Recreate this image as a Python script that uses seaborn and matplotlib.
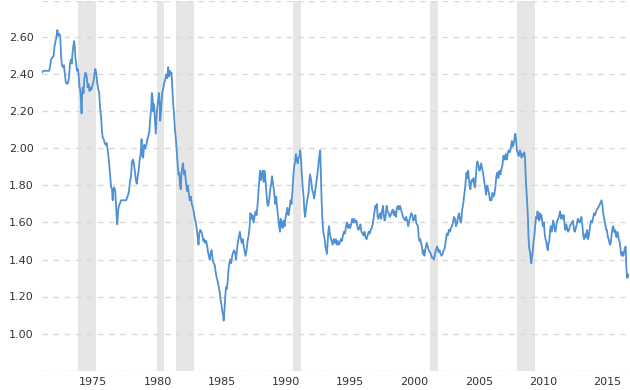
import pandas as pd
import matplotlib.pyplot as plt
import seaborn as sns

# GBP/USD exchange rate (decimal years)
years = [
    1971.00, 1971.10, 1971.25, 1971.40, 1971.55, 1971.62, 1971.70, 1971.78, 1971.90, 1971.97,
    1972.05, 1972.12, 1972.20, 1972.25, 1972.33, 1972.42, 1972.48, 1972.55, 1972.62, 1972.70,
    1972.78, 1972.85, 1972.92, 1972.98, 1973.05, 1973.12, 1973.18, 1973.25, 1973.32, 1973.38,
    1973.45, 1973.50, 1973.55, 1973.60, 1973.66, 1973.72, 1973.78, 1973.85, 1973.92, 1973.97,
    1974.03, 1974.08, 1974.12, 1974.17, 1974.23, 1974.30, 1974.38, 1974.43, 1974.50, 1974.55,
    1974.62, 1974.70, 1974.77, 1974.85, 1974.92, 1975.00, 1975.08, 1975.15, 1975.22, 1975.30,
    1975.38, 1975.45, 1975.52, 1975.60, 1975.66, 1975.72, 1975.80, 1975.88, 1975.95, 1976.03,
    1976.10, 1976.17, 1976.25, 1976.32, 1976.38, 1976.45, 1976.50, 1976.55, 1976.62, 1976.70,
    1976.76, 1976.82, 1976.86, 1976.92, 1976.98, 1977.05, 1977.15, 1977.25, 1977.35, 1977.45,
    1977.55, 1977.65, 1977.75, 1977.85, 1977.93, 1978.00, 1978.08, 1978.15, 1978.25, 1978.33,
    1978.38, 1978.45, 1978.52, 1978.60, 1978.68, 1978.75, 1978.80, 1978.87, 1978.95, 1979.03,
    1979.12, 1979.20, 1979.28, 1979.35, 1979.42, 1979.50, 1979.55, 1979.60, 1979.66, 1979.72,
    1979.78, 1979.85, 1979.92, 1979.97, 1980.05, 1980.10, 1980.15, 1980.20, 1980.28, 1980.35,
    1980.42, 1980.50, 1980.58, 1980.66, 1980.75, 1980.82, 1980.88, 1980.95, 1981.02, 1981.08,
    1981.14, 1981.20, 1981.27, 1981.35, 1981.42, 1981.48, 1981.55, 1981.62, 1981.68, 1981.75,
    1981.80, 1981.86, 1981.92, 1981.98, 1982.05, 1982.12, 1982.20, 1982.28, 1982.35, 1982.42,
    1982.50, 1982.58, 1982.66, 1982.75, 1982.83, 1982.90, 1982.97, 1983.05, 1983.12, 1983.18,
    1983.24, 1983.32, 1983.40, 1983.48, 1983.56, 1983.62, 1983.70, 1983.78, 1983.86, 1983.92,
    1983.98, 1984.05, 1984.12, 1984.20, 1984.28, 1984.36, 1984.44, 1984.52, 1984.60, 1984.68,
    1984.76, 1984.84, 1984.90, 1984.96, 1985.03, 1985.09, 1985.14, 1985.18, 1985.22, 1985.26,
    1985.32, 1985.38, 1985.45, 1985.52, 1985.58, 1985.65, 1985.72, 1985.80, 1985.88, 1985.96,
    1986.04, 1986.10, 1986.18, 1986.26, 1986.34, 1986.40, 1986.46, 1986.54, 1986.62, 1986.70,
    1986.78, 1986.84, 1986.92, 1987.00, 1987.08, 1987.16, 1987.22, 1987.30, 1987.38, 1987.46,
    1987.54, 1987.62, 1987.70, 1987.78, 1987.86, 1987.92, 1987.98, 1988.04, 1988.10, 1988.18,
    1988.25, 1988.30, 1988.36, 1988.42, 1988.48, 1988.54, 1988.60, 1988.68, 1988.76, 1988.84,
    1988.90, 1988.96, 1989.04, 1989.10, 1989.16, 1989.22, 1989.30, 1989.38, 1989.45, 1989.52,
    1989.58, 1989.64, 1989.72, 1989.80, 1989.88, 1989.94, 1990.02, 1990.10, 1990.18, 1990.26,
    1990.34, 1990.42, 1990.50, 1990.56, 1990.62, 1990.70, 1990.76, 1990.82, 1990.90, 1990.96,
    1991.04, 1991.10, 1991.16, 1991.22, 1991.30, 1991.36, 1991.42, 1991.48, 1991.54, 1991.60,
    1991.66, 1991.74, 1991.80, 1991.86, 1991.94, 1992.02, 1992.10, 1992.18, 1992.26, 1992.34,
    1992.40, 1992.46, 1992.52, 1992.60, 1992.65, 1992.70, 1992.76, 1992.82, 1992.88, 1992.94,
    1993.00, 1993.06, 1993.12, 1993.18, 1993.22, 1993.28, 1993.34, 1993.40, 1993.46, 1993.54,
    1993.62, 1993.70, 1993.78, 1993.86, 1993.94, 1994.02, 1994.10, 1994.18, 1994.26, 1994.34,
    1994.42, 1994.50, 1994.58, 1994.66, 1994.74, 1994.82, 1994.90, 1994.98, 1995.06, 1995.14,
    1995.22, 1995.30, 1995.38, 1995.46, 1995.54, 1995.62, 1995.70, 1995.78, 1995.86, 1995.94,
    1996.02, 1996.10, 1996.18, 1996.26, 1996.34, 1996.42, 1996.50, 1996.58, 1996.66, 1996.74,
    1996.82, 1996.88, 1996.94, 1997.00, 1997.06, 1997.12, 1997.18, 1997.26, 1997.34, 1997.40,
    1997.46, 1997.54, 1997.60, 1997.66, 1997.74, 1997.82, 1997.90, 1997.98, 1998.06, 1998.14,
    1998.22, 1998.30, 1998.38, 1998.46, 1998.54, 1998.62, 1998.70, 1998.78, 1998.86, 1998.94,
    1999.02, 1999.10, 1999.18, 1999.26, 1999.34, 1999.42, 1999.50, 1999.58, 1999.66, 1999.74,
    1999.82, 1999.90, 1999.98, 2000.06, 2000.12, 2000.18, 2000.26, 2000.32, 2000.38, 2000.44,
    2000.50, 2000.56, 2000.64, 2000.70, 2000.76, 2000.82, 2000.88, 2000.94, 2001.02, 2001.10,
    2001.18, 2001.26, 2001.34, 2001.42, 2001.50, 2001.58, 2001.66, 2001.74, 2001.80, 2001.88,
    2001.94, 2002.02, 2002.10, 2002.18, 2002.26, 2002.34, 2002.42, 2002.50, 2002.58, 2002.66,
    2002.74, 2002.82, 2002.90, 2002.98, 2003.06, 2003.14, 2003.22, 2003.30, 2003.38, 2003.46,
    2003.54, 2003.62, 2003.70, 2003.78, 2003.86, 2003.92, 2003.98, 2004.04, 2004.10, 2004.16,
    2004.22, 2004.28, 2004.34, 2004.40, 2004.46, 2004.52, 2004.58, 2004.64, 2004.70, 2004.76,
    2004.82, 2004.88, 2004.96, 2005.04, 2005.10, 2005.18, 2005.26, 2005.34, 2005.42, 2005.50,
    2005.56, 2005.64, 2005.72, 2005.80, 2005.86, 2005.92, 2005.98, 2006.06, 2006.12, 2006.20,
    2006.28, 2006.36, 2006.44, 2006.52, 2006.60, 2006.68, 2006.76, 2006.84, 2006.90, 2006.96,
    2007.04, 2007.10, 2007.18, 2007.26, 2007.34, 2007.42, 2007.50, 2007.56, 2007.62, 2007.70,
    2007.76, 2007.84, 2007.90, 2007.96, 2008.04, 2008.10, 2008.18, 2008.24, 2008.32, 2008.38,
    2008.46, 2008.52, 2008.58, 2008.64, 2008.70, 2008.76, 2008.82, 2008.86, 2008.92, 2008.98,
    2009.04, 2009.08, 2009.14, 2009.20, 2009.26, 2009.32, 2009.38, 2009.44, 2009.50, 2009.56,
    2009.62, 2009.68, 2009.74, 2009.80, 2009.86, 2009.92, 2009.98, 2010.06, 2010.12, 2010.18,
    2010.24, 2010.30, 2010.36, 2010.42, 2010.48, 2010.54, 2010.60, 2010.66, 2010.72, 2010.78,
    2010.84, 2010.90, 2010.96, 2011.04, 2011.10, 2011.18, 2011.26, 2011.32, 2011.40, 2011.46,
    2011.54, 2011.60, 2011.68, 2011.74, 2011.80, 2011.86, 2011.94, 2012.02, 2012.08, 2012.16,
    2012.24, 2012.32, 2012.40, 2012.46, 2012.54, 2012.62, 2012.70, 2012.76, 2012.84, 2012.92,
    2012.98, 2013.06, 2013.12, 2013.18, 2013.24, 2013.30, 2013.36, 2013.42, 2013.50, 2013.56,
    2013.62, 2013.68, 2013.74, 2013.82, 2013.90, 2013.96, 2014.04, 2014.12, 2014.20, 2014.28,
    2014.36, 2014.42, 2014.48, 2014.54, 2014.60, 2014.66, 2014.72, 2014.78, 2014.84, 2014.90,
    2014.96, 2015.04, 2015.10, 2015.16, 2015.22, 2015.28, 2015.34, 2015.40, 2015.46, 2015.52,
    2015.58, 2015.64, 2015.70, 2015.76, 2015.82, 2015.88, 2015.94, 2016.00, 2016.06, 2016.12,
    2016.18, 2016.24, 2016.30, 2016.36, 2016.42, 2016.48, 2016.52, 2016.56, 2016.60, 2016.64,
]

rates = [
    2.41, 2.42, 2.42, 2.42, 2.42, 2.44, 2.48, 2.49, 2.50, 2.55,
    2.58, 2.60, 2.64, 2.61, 2.62, 2.61, 2.50, 2.45, 2.44, 2.45,
    2.40, 2.36, 2.35, 2.35, 2.36, 2.40, 2.46, 2.48, 2.46, 2.52,
    2.56, 2.58, 2.55, 2.49, 2.46, 2.42, 2.43, 2.40, 2.33, 2.32,
    2.26, 2.19, 2.28, 2.33, 2.30, 2.38, 2.41, 2.40, 2.38, 2.33,
    2.35, 2.31, 2.33, 2.32, 2.34, 2.36, 2.40, 2.43, 2.41, 2.35,
    2.32, 2.30, 2.22, 2.17, 2.10, 2.06, 2.05, 2.03, 2.02, 2.03,
    2.00, 1.96, 1.90, 1.84, 1.79, 1.78, 1.72, 1.78, 1.79, 1.77,
    1.69, 1.62, 1.59, 1.66, 1.69, 1.70, 1.72, 1.72, 1.72, 1.72,
    1.72, 1.74, 1.76, 1.82, 1.85, 1.93, 1.94, 1.92, 1.86, 1.82,
    1.81, 1.85, 1.88, 1.94, 1.97, 2.05, 1.96, 1.95, 2.02, 2.00,
    2.02, 2.05, 2.07, 2.09, 2.16, 2.22, 2.30, 2.28, 2.20, 2.24,
    2.17, 2.08, 2.18, 2.22, 2.27, 2.30, 2.26, 2.15, 2.22, 2.30,
    2.32, 2.35, 2.37, 2.40, 2.38, 2.44, 2.39, 2.42, 2.40, 2.41,
    2.33, 2.25, 2.19, 2.10, 2.05, 1.99, 1.92, 1.86, 1.87, 1.80,
    1.78, 1.87, 1.90, 1.92, 1.86, 1.88, 1.82, 1.77, 1.80, 1.76,
    1.72, 1.74, 1.70, 1.68, 1.65, 1.62, 1.60, 1.56, 1.52, 1.48,
    1.54, 1.56, 1.55, 1.53, 1.50, 1.51, 1.49, 1.50, 1.47, 1.44,
    1.42, 1.40, 1.43, 1.45, 1.40, 1.38, 1.37, 1.33, 1.30, 1.28,
    1.25, 1.22, 1.18, 1.16, 1.12, 1.10, 1.07, 1.11, 1.15, 1.20,
    1.25, 1.24, 1.28, 1.35, 1.38, 1.40, 1.38, 1.42, 1.44, 1.45,
    1.43, 1.40, 1.46, 1.50, 1.53, 1.55, 1.52, 1.49, 1.51, 1.47,
    1.44, 1.42, 1.45, 1.50, 1.53, 1.58, 1.65, 1.62, 1.64, 1.60,
    1.63, 1.66, 1.64, 1.70, 1.78, 1.84, 1.88, 1.83, 1.85, 1.88,
    1.82, 1.88, 1.86, 1.80, 1.75, 1.70, 1.69, 1.72, 1.78, 1.81,
    1.85, 1.82, 1.78, 1.74, 1.70, 1.74, 1.68, 1.63, 1.58, 1.55,
    1.62, 1.60, 1.57, 1.61, 1.58, 1.62, 1.65, 1.68, 1.64, 1.67,
    1.72, 1.70, 1.78, 1.85, 1.90, 1.93, 1.97, 1.94, 1.92, 1.95,
    1.96, 1.99, 1.94, 1.86, 1.78, 1.74, 1.66, 1.63, 1.67, 1.70,
    1.73, 1.76, 1.82, 1.86, 1.83, 1.78, 1.76, 1.73, 1.77, 1.81,
    1.84, 1.88, 1.92, 1.97, 1.99, 1.86, 1.72, 1.62, 1.56, 1.53,
    1.51, 1.47, 1.45, 1.43, 1.48, 1.55, 1.58, 1.54, 1.52, 1.50,
    1.48, 1.51, 1.49, 1.51, 1.48, 1.50, 1.48, 1.49, 1.51, 1.50,
    1.53, 1.55, 1.54, 1.58, 1.60, 1.57, 1.59, 1.57, 1.59, 1.62,
    1.60, 1.62, 1.60, 1.61, 1.58, 1.56, 1.57, 1.59, 1.55, 1.54,
    1.53, 1.55, 1.52, 1.51, 1.53, 1.55, 1.54, 1.56, 1.57, 1.59,
    1.63, 1.66, 1.69, 1.68, 1.70, 1.63, 1.62, 1.64, 1.65, 1.62,
    1.66, 1.69, 1.64, 1.61, 1.63, 1.69, 1.66, 1.65, 1.63, 1.64,
    1.66, 1.67, 1.64, 1.66, 1.63, 1.68, 1.69, 1.67, 1.69, 1.67,
    1.65, 1.63, 1.62, 1.61, 1.63, 1.61, 1.58, 1.61, 1.63, 1.65,
    1.64, 1.61, 1.62, 1.64, 1.60, 1.59, 1.58, 1.52, 1.50, 1.51,
    1.49, 1.47, 1.43, 1.45, 1.42, 1.45, 1.47, 1.49, 1.47, 1.45,
    1.44, 1.43, 1.41, 1.41, 1.40, 1.43, 1.45, 1.47, 1.46, 1.44,
    1.45, 1.43, 1.42, 1.43, 1.45, 1.46, 1.50, 1.54, 1.53, 1.56,
    1.55, 1.57, 1.58, 1.60, 1.63, 1.62, 1.58, 1.60, 1.63, 1.65,
    1.61, 1.60, 1.67, 1.70, 1.75, 1.78, 1.83, 1.87, 1.84, 1.88,
    1.84, 1.80, 1.78, 1.82, 1.83, 1.82, 1.84, 1.80, 1.79, 1.84,
    1.90, 1.93, 1.91, 1.88, 1.89, 1.92, 1.89, 1.86, 1.82, 1.78,
    1.75, 1.80, 1.78, 1.75, 1.72, 1.73, 1.72, 1.76, 1.74, 1.75,
    1.79, 1.85, 1.87, 1.84, 1.88, 1.86, 1.89, 1.91, 1.96, 1.96,
    1.94, 1.97, 1.94, 1.98, 1.99, 1.98, 2.01, 2.04, 2.01, 2.02,
    2.05, 2.08, 2.04, 1.99, 1.97, 1.96, 1.99, 1.98, 1.95, 1.97,
    1.96, 1.98, 1.96, 1.85, 1.78, 1.70, 1.62, 1.52, 1.46, 1.44,
    1.40, 1.38, 1.42, 1.45, 1.50, 1.53, 1.58, 1.63, 1.62, 1.66,
    1.64, 1.61, 1.65, 1.62, 1.64, 1.61, 1.58, 1.60, 1.54, 1.51,
    1.50, 1.47, 1.45, 1.49, 1.50, 1.56, 1.58, 1.55, 1.58, 1.61,
    1.59, 1.56, 1.55, 1.59, 1.61, 1.62, 1.64, 1.66, 1.62, 1.64,
    1.62, 1.64, 1.58, 1.56, 1.59, 1.57, 1.55, 1.56, 1.58, 1.59,
    1.60, 1.61, 1.56, 1.55, 1.57, 1.59, 1.62, 1.61, 1.60, 1.62,
    1.63, 1.58, 1.53, 1.51, 1.52, 1.54, 1.52, 1.56, 1.51, 1.53,
    1.56, 1.59, 1.61, 1.60, 1.63, 1.65, 1.64, 1.66, 1.67, 1.68,
    1.69, 1.70, 1.71, 1.72, 1.70, 1.66, 1.63, 1.61, 1.59, 1.56,
    1.56, 1.52, 1.51, 1.49, 1.48, 1.50, 1.54, 1.57, 1.58, 1.55,
    1.56, 1.54, 1.52, 1.55, 1.54, 1.51, 1.50, 1.47, 1.43, 1.42,
    1.44, 1.42, 1.44, 1.46, 1.47, 1.35, 1.31, 1.30, 1.32, 1.31,
]

# US recessions shown as grey bands
recession_start = [1973.83, 1979.97, 1981.45, 1990.50, 2001.20, 2007.94]
recession_end = [1975.17, 1980.52, 1982.80, 1991.15, 2001.82, 2009.40]

year_ticks = [1975, 1980, 1985, 1990, 1995, 2000, 2005, 2010, 2015]
rate_ticks = [0.80, 1.00, 1.20, 1.40, 1.60, 1.80, 2.00, 2.20, 2.40, 2.60, 2.80]

df = pd.DataFrame({"year": years, "rate": rates})

sns.set_style("white")
plt.rcParams["font.family"] = ["DejaVu Sans"]

fig, ax = plt.subplots(figsize=(6.3, 3.9), dpi=100)
fig.subplots_adjust(left=42 / 630, right=1.0, bottom=19.5 / 390, top=389.5 / 390)

for start, end in zip(recession_start, recession_end):
    ax.axvspan(start, end, color="#e6e6e6", lw=0, zorder=0)

sns.lineplot(data=df, x="year", y="rate", ax=ax, color="#4f91d3",
             linewidth=1.3, zorder=3)

ax.set_xlim(1971.0, 2016.76)
ax.set_ylim(0.80, 2.80)
ax.set_xticks(year_ticks)
ax.set_xticklabels([str(y) for y in year_ticks])
ax.set_yticks(rate_ticks)
ax.set_yticklabels(["" if t in (0.80, 2.80) else f"{t:.2f}" for t in rate_ticks])

ax.set_axisbelow(True)
ax.yaxis.grid(True, color="#d9d9d9", linestyle=(0, (4, 4)), linewidth=1)
ax.xaxis.grid(False)
ax.tick_params(axis="both", length=0, labelsize=8, colors="#333333")
ax.tick_params(axis="y", pad=6)
ax.tick_params(axis="x", pad=5)
ax.set_xlabel("")
ax.set_ylabel("")
for side in ["top", "right", "left", "bottom"]:
    ax.spines[side].set_visible(False)

plt.savefig("out.png", dpi=100)
plt.close()
